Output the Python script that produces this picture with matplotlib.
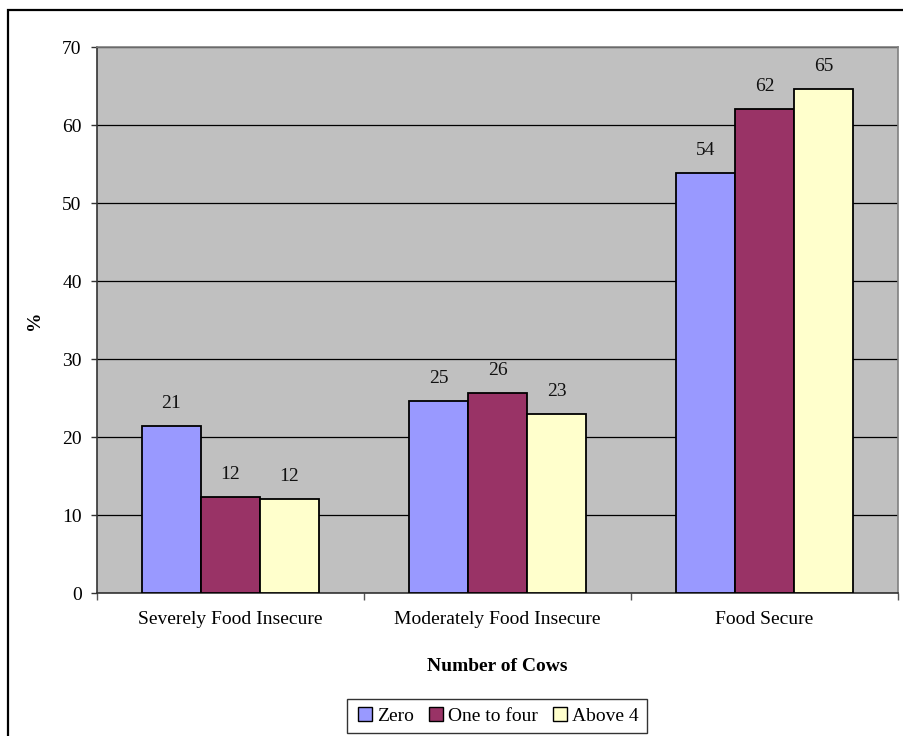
import matplotlib
matplotlib.use('Agg')
import matplotlib.pyplot as plt
import matplotlib.patches as mpatches
from matplotlib.lines import Line2D
import numpy as np

# ─── Data ────────────────────────────────────────────────────────────────────
categories = ["Severely Food Insecure", "Moderately Food Insecure", "Food Secure"]
series     = ["Zero", "One to four", "Above 4"]
zero        = [21.4, 24.6, 53.9]
one_to_four = [12.3, 25.6, 62.1]
above_4     = [12.1, 23.0, 64.6]
yticks      = [0, 10, 20, 30, 40, 50, 60, 70]

COLORS = ["#9999FF", "#993366", "#FFFFCC"]

# ─── Style ───────────────────────────────────────────────────────────────────
plt.rcParams.update({
    "font.family": ["Liberation Serif", "DejaVu Serif"],
    "font.size":   14,
})

W, H = 904, 736
fig = plt.figure(figsize=(W / 100, H / 100), dpi=100)
ax = fig.add_axes([97 / W, 1 - 593 / H, 801 / W, 546 / H])
ax.set_facecolor("#C0C0C0")

x = np.arange(len(categories))
width = 0.221
values = [zero, one_to_four, above_4]

for i, (vals, color, name) in enumerate(zip(values, COLORS, series)):
    bars = ax.bar(x + (i - 1) * width, vals, width, color=color,
                  edgecolor="black", linewidth=1.3, label=name, zorder=3)
    for bar, v in zip(bars, vals):
        ax.annotate(f"{v:.0f}", (bar.get_x() + bar.get_width() / 2, v),
                    xytext=(0, 10), textcoords="offset points",
                    ha="center", va="bottom", fontsize=14, color="#111111")

ax.set_xlim(-0.5, len(categories) - 0.5)
ax.set_ylim(0, 70)
ax.set_yticks(yticks)
ax.yaxis.grid(True, color="black", linewidth=0.9, zorder=1)
ax.tick_params(axis="y", length=4, width=1, pad=7, color="#333333")

# tick marks on category boundaries, labels under the group centres
ax.set_xticks(np.arange(len(categories) + 1) - 0.5)
ax.set_xticklabels([])
ax.set_xticks(x, minor=True)
ax.set_xticklabels(categories, minor=True)
ax.tick_params(axis="x", which="major", length=5, width=1, color="#555555")
ax.tick_params(axis="x", which="minor", length=0, pad=13)

for side in ["top", "right"]:
    ax.spines[side].set_color("#808080")
    ax.spines[side].set_linewidth(1.2)
for side in ["left", "bottom"]:
    ax.spines[side].set_color("#333333")
    ax.spines[side].set_linewidth(1.2)

ax.set_ylabel("%", fontweight="bold", fontsize=14)
ax.yaxis.set_label_coords(-0.067, 0.5)
ax.set_xlabel("Number of Cows", fontweight="bold", fontsize=14)
ax.xaxis.set_label_coords(0.5, -0.119)

# Legend
handles = [Line2D([0], [0], marker="s", linestyle="none", markersize=10,
                  markerfacecolor=c, markeredgecolor="black", label=n)
           for c, n in zip(COLORS, series)]
leg = fig.legend(handles=handles, loc="center", bbox_to_anchor=(497 / W, 1 - 716 / H),
                 ncol=3, fontsize=14, frameon=True, fancybox=False,
                 handletextpad=0.15, columnspacing=0.6, borderpad=0.4,
                 handlelength=1.0)
leg.get_frame().set_edgecolor("black")
leg.get_frame().set_linewidth(1.0)

# Outer chart border
fig.patches.append(mpatches.Rectangle((8 / W, -0.1), 2, 1 - 10 / H + 0.1,
                                      transform=fig.transFigure, fill=False,
                                      edgecolor="black", linewidth=1.6))

fig.savefig("out.png", dpi=100)
plt.close(fig)
